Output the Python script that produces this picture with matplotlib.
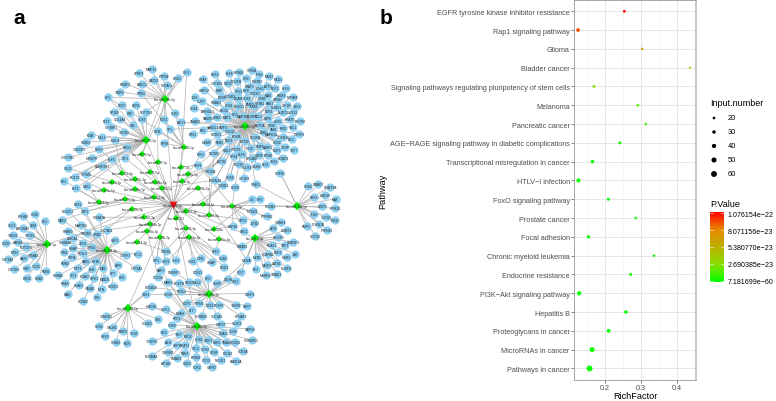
import matplotlib
matplotlib.use("Agg")
import matplotlib.pyplot as plt
import numpy as np
from matplotlib.colors import LinearSegmentedColormap, Normalize
from matplotlib.cm import ScalarMappable

plt.rcParams['font.family'] = ['Liberation Sans', 'DejaVu Sans']

# panel b data
pathways = ["EGFR tyrosine kinase inhibitor resistance", "Rap1 signaling pathway", "Glioma", "Bladder cancer",
            "Signaling pathways regulating pluripotency of stem cells", "Melanoma", "Pancreatic cancer",
            "AGE\u2212RAGE signaling pathway in diabetic complications", "Transcriptional misregulation in cancer",
            "HTLV\u2212I infection", "FoxO signaling pathway", "Prostate cancer", "Focal adhesion",
            "Chronic myeloid leukemia", "Endocrine resistance", "PI3K\u2212Akt signaling pathway", "Hepatitis B",
            "Proteoglycans in cancer", "MicroRNAs in cancer", "Pathways in cancer"]
rich_factor = [0.2546, 0.126, 0.304, 0.437, 0.170, 0.292, 0.314, 0.242, 0.166, 0.127,
               0.210, 0.286, 0.155, 0.337, 0.272, 0.129, 0.259, 0.211, 0.165, 0.158]
input_number = [22, 33, 18, 14, 22, 20, 18, 24, 30, 38, 24, 19, 28, 17, 23, 40, 30, 35, 50, 60]
p_value = [1.07e-22, 9.2e-23, 7.0e-23, 3.6e-23, 3.1e-23, 1.6e-23, 1.1e-23, 2e-24, 8e-25, 3e-25,
           2e-25, 1e-25, 5e-26, 3e-26, 1e-26, 5e-28, 1e-28, 1e-30, 1e-40, 7.181699e-60]
size_legend = [20, 30, 40, 50, 60]
p_ticks = [1.076154e-22, 8.071156e-23, 5.380770e-23, 2.690385e-23, 7.181699e-60]
p_tick_labels = ["1.076154e\u221222", "8.071156e\u221223", "5.380770e\u221223", "2.690385e\u221223", "7.181699e\u221260"]
x_ticks = [0.2, 0.3, 0.4]

# panel a, miRNA hubs, in layout units
hub_names = ["hsa-miR-155-5p", "hsa-miR-335-5p", "hsa-miR-124-3p", "hsa-miR-16-5p", "hsa-miR-26b-5p", "hsa-miR-192-5p",
             "hsa-miR-34a-5p", "hsa-miR-1-3p", "hsa-miR-29a-3p", "hsa-miR-92a-3p", "hsa-miR-145-5p", "hsa-miR-93-5p",
             "hsa-miR-21-5p", "hsa-miR-7-5p", "hsa-miR-27a-3p", "hsa-miR-17-5p", "hsa-miR-20a-5p", "hsa-miR-200c-3p",
             "hsa-miR-24-3p", "hsa-miR-146a-5p", "hsa-let-7b-5p", "hsa-miR-15a-5p", "hsa-miR-106b-5p", "hsa-miR-125b-5p",
             "hsa-miR-30a-5p", "hsa-miR-221-3p", "hsa-miR-122-5p", "hsa-miR-223-3p", "hsa-miR-181a-5p", "hsa-miR-222-3p",
             "hsa-miR-19a-3p", "hsa-miR-205-5p", "hsa-miR-210-3p", "hsa-miR-101-3p", "hsa-miR-375", "hsa-miR-103a-3p",
             "hsa-miR-130a-3p", "hsa-miR-143-3p", "hsa-miR-320a", "hsa-miR-23b-3p", "hsa-miR-133a-3p", "hsa-miR-196a-5p",
             "hsa-miR-214-3p"]
hub_x = [146, 245, 107, 47, 165, 128, 297, 255, 209, 197, 184, 142, 158, 181, 122, 150, 188, 135, 112, 155,
         182, 162, 198, 104, 135, 154, 99, 125, 203, 186, 132, 232, 209, 144, 176, 150, 147, 186, 214, 160,
         189, 219, 137]
hub_y = [141, 127, 251, 245, 100, 309, 207, 239, 295, 327, 148, 155, 163, 168, 174, 173, 175, 180, 183, 183,
         182, 189, 189, 191, 190, 198, 203, 200, 205, 212, 210, 207, 216, 218, 219, 225, 232, 229, 230, 238,
         238, 240, 243]
center_name = "hsa-miR-98-5p"
center_x = 173
center_y = 206

genes_a = [("SFRP1", 417, 222), ("MMP13", 455, 211), ("PTPN4", 491, 231), ("DRD1", 533, 237), ("IGF2", 560, 220),
           ("BACE1", 461, 243), ("ABCG1", 427, 254), ("FGMF3", 376, 254), ("SCEAL1", 500, 258), ("TIMP1", 359, 278),
           ("PTEN", 422, 281)]
genes_b = [("SP1", 325, 295), ("PDE7", 367, 319), ("KDR1", 409, 318), ("EP300", 342, 340), ("CBP", 391, 341),
           ("NOTCH1", 438, 338), ("COL4A4", 360, 361), ("SOX5", 425, 361), ("FLT3", 320, 366), ("IGF2BP1", 333, 385),
           ("SKOR1", 372, 399), ("CBL", 398, 378), ("MCL1", 305, 415), ("PLAT", 272, 408), ("HIMD2", 258, 428),
           ("MUC4", 345, 423), ("NRG1", 381, 445), ("TXNSIP1", 238, 450), ("NFE2", 297, 450), ("CYP27B1", 204, 475),
           ("MRGPR", 275, 477), ("KLF5", 336, 480), ("IGF1", 376, 478), ("LAMTOR1", 307, 500), ("CYLD", 205, 508),
           ("SYTM3", 258, 525), ("CD274", 224, 533), ("NF1", 192, 545), ("MID1", 260, 560), ("KLF2", 228, 568)]
genes_k = [("PDK1", 493, 361), ("TLR2", 524, 343), ("AKT1", 542, 370), ("MYB", 473, 396), ("TP1", 511, 391),
           ("EPS8", 493, 433)]
genes_c = [("CPEB4", 185, 213), ("EFNB2", 148, 220), ("KLF6", 118, 222), ("NRF2", 75, 224), ("CRAF", 40, 239),
           ("IFI16", 208, 224), ("MKI67", 237, 232), ("MCD1", 265, 240), ("SFN", 167, 237), ("PDGFB", 140, 247),
           ("DTD1", 115, 253), ("NMP", 88, 272), ("PIK3R1", 202, 245), ("STAT3", 180, 260), ("ATF3", 232, 260),
           ("BGT1", 255, 268), ("KLF4", 288, 268), ("CDH1", 210, 268), ("HMP12", 42, 272), ("CYP1B1", 80, 252),
           ("MYC", 170, 272), ("TP53", 145, 277), ("MAX", 235, 287), ("RBM3", 275, 287), ("NPRM4", 308, 293),
           ("DOCK1", 195, 283), ("DDX5", 97, 295), ("CCND2", 122, 292), ("CDK6", 172, 297), ("BCAM", 145, 298),
           ("CTSB", 215, 298), ("WPM7", 265, 300), ("SMAD2", 78, 308), ("LOX", 15, 293), ("CUFT", 35, 307),
           ("CD38", 118, 317), ("FOXO1", 147, 322), ("BMP2", 180, 315), ("SH2B1", 210, 312), ("PAK1", 238, 312),
           ("IGF1R", 290, 317), ("RUNX1", 260, 323), ("CBX2", 322, 320), ("CD44", 12, 327), ("ARHGD1", 52, 335),
           ("EDG2", 102, 332), ("MTA1", 192, 322), ("EZH2", 238, 337), ("SUZ12", 310, 340), ("NUDT3", 280, 340),
           ("FAM3C", 55, 357), ("ZEB2", 82, 355), ("MBT1", 110, 355), ("SP3", 135, 345), ("MAP3K1", 160, 350),
           ("DUSP1", 187, 350), ("BCL2", 205, 350), ("LRP6", 233, 357), ("LOX5", 265, 365), ("NFAT5", 300, 360),
           ("EGFR3", 330, 367), ("SMAD5", 15, 367), ("VANGL2", 70, 385), ("SMF3", 100, 383), ("WNT5A", 210, 378),
           ("PIGB", 245, 377), ("JAK1", 250, 390), ("MXI1", 280, 388), ("TSC1", 310, 385), ("RB1", 40, 393),
           ("CDC42", 120, 395), ("HOXC1", 80, 405), ("FOXM", 140, 410), ("ETS1", 8, 405), ("PDGFA", 195, 415),
           ("DMD", 222, 398), ("MAPK14", 245, 405), ("CDKN1C", 280, 415), ("DCC", 305, 420), ("CYFIP2", 328, 405),
           ("MDM2", 50, 430), ("TRIB3", 88, 430), ("BRD1", 118, 423), ("MYCN", 165, 427), ("SOX2", 260, 428),
           ("SMF1", 210, 440), ("LARP1", 232, 443), ("SPOP", 285, 445), ("TCF7", 312, 452), ("CSK1", 110, 453),
           ("CTDP1", 140, 450), ("YY1C", 182, 448), ("MST1", 262, 452), ("ETV1", 33, 466), ("NCOR2", 72, 461),
           ("VPS4", 133, 472), ("KLF9", 155, 465), ("CBFB", 207, 467), ("KPNB", 235, 467), ("ACTB", 95, 487),
           ("ROBO1", 280, 478), ("YES1", 252, 485), ("NRCAM", 185, 477), ("PCDH7", 148, 495), ("GLUT4", 170, 505),
           ("BUB1", 200, 502), ("ELF1", 228, 495), ("NRP1", 25, 498), ("PIK3CA", 60, 515), ("CDK4", 120, 533),
           ("IGF1R2", 162, 537), ("CDKN1A", 75, 543), ("CCND1", 100, 558), ("CDK8", 135, 565), ("SPAG1", 197, 555)]
genes_g = [("COPS1", 180, 131), ("SOX4", 264, 172), ("SMAD7", 295, 166), ("DNMT3A", 331, 173), ("HBEGF", 315, 199),
           ("RBX1", 283, 205), ("MAF", 347, 209), ("LTBP3", 306, 231), ("PPM1D", 346, 238), ("TLR4", 282, 256),
           ("SOCS3", 319, 263), ("TGIN1", 345, 274), ("BMP1", 260, 292), ("CDKN1B", 296, 284), ("PTPN11", 321, 302),
           ("SOCS2", 285, 320), ("FOXM1", 152, 231)]
genes_m = [("IL6", 95, 211), ("SP4", 121, 210), ("MYOD1", 98, 245), ("PTPRB2", 140, 262), ("JSTB2", 103, 282),
           ("UPC7", 70, 272), ("HSPB1", 40, 292), ("UBC1", 72, 306)]
genes_h = [("ATB", 248, 87), ("DNMT1", 290, 94), ("CMNK4", 273, 68), ("ACDP2", 265, 114), ("SMDSP1", 310, 128),
           ("NEAT1", 245, 138), ("TRP1", 285, 138), ("EZH1", 265, 160), ("AR", 315, 165), ("SCARB1", 235, 165),
           ("MOB1", 290, 175), ("MZB1", 200, 175), ("LATS1", 260, 192), ("CASP3", 230, 197), ("DUSP4", 290, 208),
           ("NF2", 197, 210), ("MKRN3", 227, 228), ("SMAD1", 260, 224), ("NSMB1", 157, 142), ("MSI2A", 170, 182),
           ("PIGT", 152, 220)]
genes_d = [("EPHB4", 70, 52), ("CD82", 105, 44), ("LDM", 100, 78), ("PE1", 135, 67), ("SHC1", 35, 77),
           ("ADORA3", 68, 87), ("THBS2", 40, 109), ("VEGFC", 91, 108), ("CCNY", 18, 133), ("RARB1", 55, 130),
           ("NOTCH2", 78, 145), ("SEMA3", 100, 167), ("ETS2", 45, 160), ("VAV2", 72, 177), ("CYP3A4", 25, 181),
           ("YOD1", 108, 200), ("ISKP", 80, 207), ("CYP1B2", 43, 210), ("FMS1", 138, 215), ("PIK3C", 82, 238),
           ("GRB1", 118, 238)]
genes_e = [("SLC7A11", 320, 93), ("PPARG", 205, 97), ("MAP2K4", 243, 78), ("SEMA7A", 298, 55), ("MBC3", 187, 63),
           ("NKX2C2", 205, 36), ("TBP1", 255, 37), ("CBX1", 235, 15), ("PIK3R2", 260, 102), ("GRB2", 291, 106),
           ("ABCA1", 218, 117), ("VSP1", 345, 124), ("SEMA3A", 195, 128), ("TCF4", 250, 132), ("SPIN2", 275, 143),
           ("MSAP", 220, 148), ("VIM1", 193, 158), ("FOSL1", 250, 162), ("DFFA", 215, 175), ("CYFIP1", 378, 168),
           ("RCC1", 413, 166), ("PMN2", 195, 193), ("PAK5", 258, 187), ("MTB1", 288, 187), ("APC", 355, 197),
           ("CYP1A1", 410, 208), ("MYT1", 235, 206), ("DLB", 275, 211), ("MB1", 310, 208), ("HNRA2", 175, 229),
           ("GIT1", 220, 227), ("HDAC7", 255, 232), ("HIPK2", 283, 238), ("SP7", 338, 223), ("MBD3L", 314, 240),
           ("SP8", 365, 235), ("KRAS", 195, 252), ("PEAK1", 238, 258), ("GATA2", 270, 268), ("MTN", 305, 270),
           ("HOXC3", 340, 260), ("WAS", 203, 286), ("TXK", 290, 295), ("CCNE2", 250, 307)]
genes_f = [("TXNRD3", 318, 352), ("SOS2", 297, 380), ("CALM1", 338, 383), ("TIMP3", 368, 395), ("SGLB", 403, 402),
           ("GPX3", 316, 411), ("IGSM1", 347, 428), ("KDR", 382, 432), ("VIM", 473, 360), ("CCNE1", 443, 371)]
genes_n = [("CREB1", 498, 156), ("SIP1", 470, 182), ("CYP2", 497, 186), ("CLK1", 527, 183)]
genes_i = [("PDP1", 202, 132), ("PTPN1", 238, 133), ("LOX2", 270, 137), ("FOXP1", 298, 138), ("LTT", 215, 152),
           ("SORBS3", 245, 170), ("SLC1A3", 290, 170), ("TGFB1", 348, 137), ("DEPT", 380, 142), ("SSEP1", 390, 104),
           ("KPNAT1", 362, 172), ("SP2", 263, 58), ("HOXP", 292, 72), ("LDOA", 323, 60), ("SIX1", 347, 67),
           ("POSTN", 178, 73), ("NRG2", 208, 68), ("MCL2", 230, 68), ("FOSL2", 184, 96), ("CDH9", 145, 105),
           ("PDK21", 233, 40), ("SMURF1", 163, 40), ("HOXA10", 93, 85), ("YBX1", 78, 105), ("MMP2", 145, 70)]
genes_j = [("ENAH", 182, 161), ("KPP1", 172, 177), ("CDK9", 155, 197), ("USP37", 303, 195), ("NES", 133, 220),
           ("NKT", 177, 226), ("BRD2", 205, 231), ("TFGFR1", 97, 247), ("ALK", 145, 248), ("SRP1", 170, 258),
           ("NFAT1", 195, 257), ("TGFBR1", 145, 278), ("KCNMA1", 95, 290), ("SMAD3", 170, 297), ("AP1B2", 137, 313),
           ("GSK3", 200, 313), ("FBN1", 195, 283), ("CFL1", 228, 267), ("CDH2", 255, 271), ("BDNF", 283, 280),
           ("PCLB3", 322, 283), ("PDE3A", 368, 276), ("EFNB1", 228, 293), ("VCD3", 258, 302), ("NEUD1", 302, 302),
           ("FAM13A", 348, 306), ("CDK2", 230, 323), ("USP47", 275, 323), ("SOS1", 238, 240), ("DZIP1", 265, 242),
           ("ESR1", 290, 248), ("SMA4", 318, 250), ("HOXD1", 345, 248), ("SOX9", 340, 215), ("SNAI1", 310, 223),
           ("TUSC2", 350, 192), ("SAPD4", 390, 210), ("SERBBC1", 395, 243), ("HMGB1", 95, 142), ("SUFU", 137, 150),
           ("FAP1", 123, 32), ("COCS4", 115, 55)]
genes_o = [("CTRL", 32, 178), ("CDK1", 8, 185), ("GNAP", 65, 190), ("CGB1", 100, 178), ("NOD1", 102, 203),
           ("LEF1", 77, 155)]

# hub index and crop origin for every group of genes
leaves_groups = [(genes_a, 4, 0, 0), (genes_b, 0, 0, 0), (genes_k, 10, 0, 0), (genes_c, 1, 190, 0),
                 (genes_g, 6, 220, 130), (genes_m, 31, 220, 130), (genes_h, 7, 190, 200), (genes_d, 3, 0, 200),
                 (genes_e, 2, 0, 200), (genes_f, 5, 0, 200), (genes_n, 39, 0, 200), (genes_i, 8, 120, 260),
                 (genes_j, 9, 120, 260), (genes_o, 40, 190, 200)]

# long edges between a hub and a gene outside its own group
cross_edges = [(4, "PDK1"), (4, "TLR2"), (4, "AKT1"), (4, "NOTCH1"), (4, "MYB"), (4, "SP1"), (10, "SP1"), (10, "PTEN"),
               (11, "SCEAL1"), (11, "DRD1"), (13, "IGF2"), (14, "KLF5"), (14, "MUC4"), (15, "NRG1"), (17, "NFE2"),
               (18, "CYLD"), (23, "CD274"), (26, "KLF2"), (26, "NF1"), (26, "MID1"), (24, "LAMTOR1"), (19, "IGF1"),
               (12, "MYB"), (16, "ACTB"), (20, "ACTB"), (13, "NRP1"), (28, "CDK4"), (28, "CCND1"), (21, "CDKN1A"),
               (29, "CCND1"), (31, "CDK8"), (31, "NRP1"), (32, "PIK3CA"), (32, "NCOR2"), (16, "ETV1"), (1, "CDKN1A"),
               (1, "PIK3CA"), (1, "CDK4"), (1, "AKT1"), (1, "TP1"), (6, "COPS1"), (6, "SPAG1"), (37, "CREB1"),
               (37, "CLK1"), (39, "CYP2"), (39, "SIP1"), (34, "LEF1"), (41, "LEF1"), (41, "NSMB1"), (38, "IL6"),
               (38, "HSPB1"), (32, "UPC7"), (42, "CREB1"), (40, "FAP1"), (36, "COCS4"), (5, "SUFU"), (5, "HOXA10"),
               (5, "YBX1"), (8, "PIGT"), (8, "MSI2A"), (8, "SP2"), (9, "CDH9"), (9, "MMP2"), (9, "SUFU"), (7, "PIGT"),
               (30, "PMN2"), (30, "SEMA3A"), (33, "SEMA7A"), (35, "SLC7A11"), (27, "MBC3"), (27, "NKX2C2"),
               (25, "TBP1"), (22, "MSI2A"), (2, "VSP1"), (2, "CYFIP1")]

fig = plt.figure(figsize=(7.76, 4.02), dpi=100)

# whole figure axes in reference pixels, for the network and the letters
net = fig.add_axes([0, 0, 1, 1])
net.set_xlim(0, 776)
net.set_ylim(402, 0)
net.axis("off")

gene_pos = {}
gene_hub = []
for rows, hub, ox, oy in leaves_groups:
    for name, gx, gy in rows:
        px = ox + gx / 3
        py = oy + gy / 3
        gene_pos[name] = (px, py)
        gene_hub.append((hub, name))

edge_col = "#b0b0b0"
for hub, name in gene_hub + cross_edges:
    net.plot([hub_x[hub], gene_pos[name][0]], [hub_y[hub], gene_pos[name][1]], color=edge_col, lw=0.5, zorder=1)
for hx, hy in zip(hub_x, hub_y):
    net.plot([center_x, hx], [center_y, hy], color=edge_col, lw=0.5, zorder=1)

gene_x = [p[0] for p in gene_pos.values()]
gene_y = [p[1] for p in gene_pos.values()]
net.scatter(gene_x, gene_y, s=36, color="#8ed0f2", linewidths=0, zorder=2)
for name, (px, py) in gene_pos.items():
    net.text(px, py, name, fontsize=2.3, color="#222222", ha="center", va="center", zorder=3)

hub_sizes = [18 if i < 10 else 10 for i in range(len(hub_x))]
net.scatter(hub_x, hub_y, s=hub_sizes, marker="D", color="#00f000", linewidths=0, zorder=4)
for name, hx, hy in zip(hub_names, hub_x, hub_y):
    net.text(hx, hy, name, fontsize=2.2, color="#222222", ha="center", va="center", zorder=5)
net.scatter([center_x], [center_y], s=30, marker="v", color="#f01010", linewidths=0, zorder=4)
net.text(center_x, center_y, center_name, fontsize=2.2, color="#222222", ha="center", va="center", zorder=5)

net.text(13, 18, "a", fontsize=15, fontweight="bold", ha="left", va="center", color="black")
net.text(380, 18, "b", fontsize=15, fontweight="bold", ha="left", va="center", color="black")

# panel b
W, H = 776.0, 402.0
ax = fig.add_axes([574.3 / W, 1 - 380.7 / H, (696 - 574.3) / W, (380.7 - 1) / H])
cmap = LinearSegmentedColormap.from_list("pv", ["#00ff00", "#88e000", "#bdb000", "#e88800", "#ff0000"])
norm = Normalize(-2.4e-24, 1.1e-22)


def dot_area(n):
    return (0.9 + 0.065 * np.asarray(n, dtype=float)) ** 2 * 0.72 ** 2 * 1.5


ax.scatter(rich_factor, pathways, s=dot_area(input_number), c=p_value, cmap=cmap, norm=norm, linewidths=0, zorder=3)
ax.set_xlim(0.1156, 0.4536)
ax.set_ylim(19.6, -0.6)
ax.set_xticks(x_ticks)
ax.set_xticks([0.15, 0.25, 0.35, 0.45], minor=True)
ax.grid(True, which="major", color="#e6e6e6", lw=0.7, zorder=0)
ax.grid(True, which="minor", axis="x", color="#f0f0f0", lw=0.4, zorder=0)
ax.set_axisbelow(True)
ax.tick_params(axis="both", which="major", labelsize=5.25, labelcolor="#4d4d4d", color="#555555", length=2, width=0.5, pad=1.2)
ax.tick_params(axis="x", which="minor", length=0)
for side in ax.spines:
    ax.spines[side].set_color("#999999")
    ax.spines[side].set_linewidth(0.6)
ax.spines["right"].set_color("#bbbbbb")
ax.spines["right"].set_linewidth(1.1)

net.text(635, 397, "RichFactor", fontsize=6.6, ha="center", va="center", color="black")
net.text(382.5, 191, "Pathway", fontsize=6.6, rotation=90, ha="center", va="center", color="black")

# size legend
net.text(710, 103, "Input.number", fontsize=6.5, ha="left", va="center", color="black")
legend_y = [119, 133, 147, 161, 175]
net.scatter([714] * 5, legend_y, s=dot_area(size_legend), color="black", linewidths=0)
for n, ly in zip(size_legend, legend_y):
    net.text(728, ly, str(n), fontsize=5.4, ha="left", va="center", color="black")

# colour legend
net.text(710, 205, "P.Value", fontsize=6.5, ha="left", va="center", color="black")
cax = fig.add_axes([710 / W, 1 - 283 / H, 14 / W, 70 / H])
cb = fig.colorbar(ScalarMappable(norm=norm, cmap=cmap), cax=cax)
cb.set_ticks(p_ticks)
cb.set_ticklabels(p_tick_labels)
cb.outline.set_visible(False)
cax.tick_params(axis="y", length=0, labelsize=5.1, pad=2.6)
for tv in p_ticks:
    cax.plot([0, 0.2], [tv, tv], color="white", lw=0.4, transform=cax.get_yaxis_transform())
    cax.plot([0.8, 1], [tv, tv], color="white", lw=0.4, transform=cax.get_yaxis_transform())

fig.savefig("out.png", dpi=100)
